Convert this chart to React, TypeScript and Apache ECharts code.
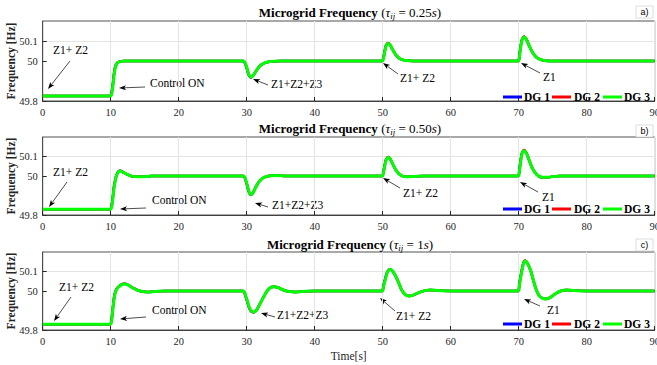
import React, { useEffect, useRef } from 'react';
import * as echarts from 'echarts';

// ---------- data ----------
const legendNames = ['DG 1', 'DG 2', 'DG 3'];
const lineColors = ['#0000ff', '#ff0000', '#00ff00'];
const tauLabels = ['0.25', '0.50', '1'];
const panelTags = ['a)', 'b)', 'c)'];
const yTickValues = [49.8, 50, 50.1];

// panel a (tau = 0.25 s)
const tA = [0, 9.9, 10.1, 10.3, 10.5, 10.7, 11.0, 11.4, 12.0, 13,
  29.5, 29.7, 30.0, 30.3, 30.6, 30.9, 31.3, 31.8, 32.5, 33.5, 35,
  49.9, 50.1, 50.3, 50.5, 50.8, 51.1, 51.5, 52.0, 52.6, 53.4, 54.5,
  69.9, 70.1, 70.3, 70.5, 70.8, 71.1, 71.5, 72.0, 72.6, 73.4, 74.5,
  90];
const aDG1 = [49.825, 49.825, 49.835, 49.88, 49.94, 49.975, 49.992, 49.998, 50.0, 50.0,
  50.0, 49.993, 49.965, 49.93, 49.918, 49.925, 49.946, 49.971, 49.988, 49.997, 50.0,
  50.0, 50.015, 50.052, 50.079, 50.089, 50.079, 50.054, 50.027, 50.01, 50.002, 50.0,
  50.0, 50.027, 50.077, 50.109, 50.121, 50.109, 50.079, 50.044, 50.018, 50.005, 50.0,
  50.0];
const aDG2 = [49.825, 49.825, 49.833, 49.876, 49.936, 49.973, 49.991, 49.998, 50.0, 50.0,
  50.0, 49.994, 49.967, 49.932, 49.919, 49.925, 49.945, 49.97, 49.988, 49.997, 50.0,
  50.0, 50.013, 50.049, 50.077, 50.09, 50.081, 50.056, 50.028, 50.01, 50.002, 50.0,
  50.0, 50.024, 50.074, 50.108, 50.123, 50.112, 50.08, 50.045, 50.018, 50.005, 50.0,
  50.0];
const aDG3 = [49.825, 49.825, 49.83, 49.87, 49.93, 49.97, 49.99, 49.997, 50.0, 50.0,
  50.0, 49.995, 49.97, 49.935, 49.92, 49.925, 49.945, 49.97, 49.988, 49.997, 50.0,
  50.0, 50.01, 50.045, 50.075, 50.088, 50.08, 50.055, 50.028, 50.01, 50.002, 50.0,
  50.0, 50.02, 50.07, 50.105, 50.12, 50.11, 50.08, 50.045, 50.018, 50.005, 50.0,
  50.0];

// panel b (tau = 0.50 s)
const tB = [0, 9.9, 10.1, 10.3, 10.5, 10.8, 11.1, 11.4, 11.8, 12.4, 13.2, 14.5, 16,
  29.5, 29.7, 30.0, 30.3, 30.6, 30.9, 31.3, 31.8, 32.4, 33.2, 34.2, 36,
  49.9, 50.1, 50.3, 50.5, 50.8, 51.1, 51.5, 52.0, 52.6, 53.4, 54.5, 56,
  69.9, 70.1, 70.3, 70.5, 70.8, 71.1, 71.5, 72.0, 72.6, 73.4, 74.5, 76,
  90];
const bDG1 = [49.83, 49.83, 49.84, 49.89, 49.95, 49.998, 50.022, 50.027, 50.02, 50.008, 49.998, 49.996, 50.0,
  50.0, 49.993, 49.96, 49.92, 49.903, 49.912, 49.941, 49.971, 49.99, 50.0, 50.003, 50.0,
  50.0, 50.02, 50.057, 50.085, 50.096, 50.087, 50.059, 50.027, 50.005, 49.996, 49.997, 50.0,
  50.0, 50.032, 50.083, 50.12, 50.131, 50.119, 50.084, 50.04, 50.01, 49.993, 49.994, 50.0,
  50.0];
const bDG2 = [49.83, 49.83, 49.838, 49.885, 49.945, 49.997, 50.021, 50.027, 50.02, 50.008, 49.998, 49.996, 50.0,
  50.0, 49.994, 49.962, 49.922, 49.904, 49.912, 49.94, 49.97, 49.99, 50.0, 50.003, 50.0,
  50.0, 50.018, 50.054, 50.083, 50.097, 50.089, 50.061, 50.028, 50.005, 49.996, 49.997, 50.0,
  50.0, 50.029, 50.08, 50.118, 50.133, 50.122, 50.086, 50.041, 50.01, 49.993, 49.994, 50.0,
  50.0];
const bDG3 = [49.83, 49.83, 49.835, 49.88, 49.94, 49.995, 50.02, 50.026, 50.02, 50.008, 49.998, 49.996, 50.0,
  50.0, 49.995, 49.965, 49.925, 49.905, 49.912, 49.94, 49.97, 49.99, 50.0, 50.003, 50.0,
  50.0, 50.015, 50.05, 50.08, 50.095, 50.088, 50.06, 50.028, 50.005, 49.996, 49.997, 50.0,
  50.0, 50.025, 50.075, 50.115, 50.13, 50.12, 50.085, 50.04, 50.01, 49.993, 49.994, 50.0,
  50.0];

// panel c (tau = 1 s)
const tC = [0, 9.9, 10.1, 10.3, 10.5, 10.7, 11.0, 11.5, 12.0, 12.6, 13.4, 14.3, 15.3, 16.5, 18,
  29.5, 29.7, 30.0, 30.4, 30.7, 31.0, 31.4, 31.9, 32.5, 33.0, 33.5, 34.0, 34.6, 35.4, 36.2, 37.0, 38.2, 40,
  49.9, 50.1, 50.4, 50.7, 51.1, 51.5, 52.0, 52.5, 52.8, 53.3, 53.9, 54.5, 55.3, 56.2, 57.0, 58.2, 60,
  69.9, 70.1, 70.4, 70.7, 70.95, 71.3, 71.8, 72.2, 72.6, 73.1, 73.9, 74.6, 75.4, 76.2, 77.0, 78.2, 80,
  90];
const cDG1 = [49.83, 49.83, 49.846, 49.91, 49.968, 49.998, 50.017, 50.031, 50.037, 50.03, 50.013, 50.0, 49.995, 49.997, 50.0,
  50.0, 49.987, 49.955, 49.91, 49.894, 49.891, 49.9, 49.931, 49.971, 50.0, 50.018, 50.022, 50.018, 50.005, 49.997, 49.995, 49.998, 50.0,
  50.0, 50.026, 50.067, 50.1, 50.112, 50.099, 50.069, 50.029, 50.004, 49.982, 49.974, 49.979, 49.992, 50.002, 50.005, 50.002, 50.0,
  50.0, 50.037, 50.097, 50.145, 50.155, 50.141, 50.099, 50.049, 50.004, 49.972, 49.959, 49.966, 49.986, 50.0, 50.005, 50.002, 50.0,
  50.0];
const cDG2 = [49.83, 49.83, 49.843, 49.905, 49.964, 49.997, 50.016, 50.031, 50.037, 50.03, 50.013, 50.0, 49.995, 49.997, 50.0,
  50.0, 49.988, 49.957, 49.912, 49.895, 49.891, 49.9, 49.93, 49.97, 50.0, 50.018, 50.022, 50.018, 50.005, 49.997, 49.995, 49.998, 50.0,
  50.0, 50.023, 50.064, 50.098, 50.112, 50.101, 50.07, 50.03, 50.005, 49.982, 49.974, 49.979, 49.992, 50.002, 50.005, 50.002, 50.0,
  50.0, 50.034, 50.094, 50.143, 50.156, 50.143, 50.101, 50.05, 50.005, 49.972, 49.959, 49.966, 49.986, 50.0, 50.005, 50.002, 50.0,
  50.0];
const cDG3 = [49.83, 49.83, 49.84, 49.9, 49.96, 49.995, 50.015, 50.03, 50.036, 50.03, 50.013, 50.0, 49.995, 49.997, 50.0,
  50.0, 49.99, 49.96, 49.915, 49.897, 49.892, 49.9, 49.93, 49.97, 50.0, 50.018, 50.022, 50.018, 50.005, 49.997, 49.995, 49.998, 50.0,
  50.0, 50.02, 50.06, 50.095, 50.111, 50.1, 50.07, 50.03, 50.005, 49.982, 49.974, 49.979, 49.992, 50.002, 50.005, 50.002, 50.0,
  50.0, 50.03, 50.09, 50.14, 50.154, 50.142, 50.1, 50.05, 50.005, 49.972, 49.959, 49.966, 49.986, 50.0, 50.005, 50.002, 50.0,
  50.0];

const panels = [
  { t: tA, dg: [aDG1, aDG2, aDG3] },
  { t: tB, dg: [bDG1, bDG2, bDG3] },
  { t: tC, dg: [cDG1, cDG2, cDG3] },
];

// ---------- layout / styles ----------
const SERIF = 'Liberation Serif';
const SANS = 'Liberation Sans';
const AXIS_COLOR = '#262626';
const GRID_COLOR = '#e4e4e4';
const gridBoxes = [
  { top: 21, height: 80 },
  { top: 137, height: 78 },
  { top: 252, height: 78 },
];
const titleY = [12, 128, 244];
const tagY = [6, 125, 239];
const legendY = [97, 209, 324];

type Ann = { text: string; tx: number; ty: number; x1: number; y1: number; x2: number; y2: number };
const annotations: Ann[] = [
  // a
  { text: 'Z1+ Z2', tx: 53, ty: 50, x1: 70, y1: 61, x2: 48, y2: 89 },
  { text: 'Control ON', tx: 150, ty: 83, x1: 145, y1: 87, x2: 119, y2: 88 },
  { text: 'Z1+Z2+Z3', tx: 271, ty: 84, x1: 268, y1: 85, x2: 253, y2: 79 },
  { text: 'Z1+ Z2', tx: 400, ty: 78, x1: 398, y1: 74, x2: 383, y2: 63 },
  { text: 'Z1', tx: 543, ty: 77, x1: 540, y1: 73, x2: 521, y2: 63 },
  // b
  { text: 'Z1+ Z2', tx: 53, ty: 172, x1: 67, y1: 182, x2: 49, y2: 207 },
  { text: 'Control ON', tx: 152, ty: 200, x1: 146, y1: 208, x2: 120, y2: 209 },
  { text: 'Z1+Z2+Z3', tx: 272, ty: 205, x1: 268, y1: 207, x2: 255, y2: 203 },
  { text: 'Z1+ Z2', tx: 403, ty: 193, x1: 400, y1: 188, x2: 383, y2: 178 },
  { text: 'Z1', tx: 542, ty: 197, x1: 538, y1: 192, x2: 520, y2: 182 },
  // c
  { text: 'Z1+ Z2', tx: 59, ty: 287, x1: 71, y1: 297, x2: 54, y2: 321 },
  { text: 'Control ON', tx: 152, ty: 310, x1: 146, y1: 317, x2: 120, y2: 319 },
  { text: 'Z1+Z2+Z3', tx: 277, ty: 315, x1: 275, y1: 317, x2: 261, y2: 313 },
  { text: 'Z1+ Z2', tx: 396, ty: 316, x1: 395, y1: 311, x2: 380, y2: 298 },
  { text: 'Z1', tx: 547, ty: 310, x1: 540, y1: 306, x2: 524, y2: 299 },
];

// legend drawn as graphic: [icon start x, text start x]
const legendItems = [
  { ix: 503, tx: 524 },
  { ix: 552, tx: 574 },
  { ix: 603, tx: 624 },
];

function arrowParts(a: Ann) {
  const dx = a.x2 - a.x1, dy = a.y2 - a.y1;
  const len = Math.hypot(dx, dy) || 1;
  const ux = dx / len, uy = dy / len;
  const L = 7, W = 2.6;
  const bx = a.x2 - ux * L, by = a.y2 - uy * L;
  const nx = -uy, ny = ux;
  const mx = a.x2 - ux * L * 0.75, my = a.y2 - uy * L * 0.75;
  return [
    { type: 'line', silent: true, shape: { x1: a.x1, y1: a.y1, x2: mx, y2: my }, style: { stroke: '#000', lineWidth: 0.7 } },
    { type: 'polygon', silent: true, shape: { points: [[a.x2, a.y2], [bx + nx * W, by + ny * W], [mx, my], [bx - nx * W, by - ny * W]] }, style: { fill: '#000' } },
    { type: 'text', silent: true, x: a.tx, y: a.ty, style: { text: a.text, fontFamily: SERIF, fontSize: 11.5, fill: '#000', align: 'left', verticalAlign: 'middle' } },
  ];
}

function buildOption() {
  const grid = gridBoxes.map((g) => ({
    left: 42.7, right: 2.3, top: g.top, height: g.height,
    containLabel: false, outerBoundsMode: 'none',
    show: true, borderColor: AXIS_COLOR, borderWidth: 0.8, backgroundColor: 'transparent',
  }));

  const xAxis = gridBoxes.map((_, i) => ({
    gridIndex: i, type: 'value', min: 0, max: 90, interval: 10,
    axisLine: { show: true, lineStyle: { color: AXIS_COLOR, width: 0.8 } },
    axisTick: { show: true, inside: true, length: 4, lineStyle: { color: AXIS_COLOR } },
    axisLabel: { fontFamily: SERIF, fontSize: 10.5, color: AXIS_COLOR, margin: 6, hideOverlap: false },
    splitLine: { show: true, lineStyle: { color: GRID_COLOR, width: 1 } },
    name: i === 2 ? 'Time[s]' : '',
    nameLocation: 'middle', nameGap: 20, nameMoveOverlap: false,
    nameTextStyle: { fontFamily: SERIF, fontSize: 11.5, color: AXIS_COLOR },
  }));

  const yAxis = gridBoxes.map((_, i) => ({
    gridIndex: i, type: 'value', min: 49.8, max: 50.2, interval: 0.1,
    axisLine: { show: true, lineStyle: { color: AXIS_COLOR, width: 0.8 } },
    axisTick: { show: true, inside: true, length: 4, customValues: yTickValues, lineStyle: { color: AXIS_COLOR } },
    axisLabel: {
      customValues: yTickValues,
      fontFamily: SERIF, fontSize: 10.5, color: AXIS_COLOR, margin: 5,
      formatter: (v: number) => {
        const s = String(+v.toFixed(1));
        return yTickValues.some((t) => Math.abs(t - v) < 1e-6) ? s : '';
      },
    },
    splitLine: { show: true, lineStyle: { color: ['transparent', 'transparent', GRID_COLOR, GRID_COLOR, 'transparent'], width: 1 } },
    name: 'Frequency [Hz]', nameLocation: 'middle', nameGap: 26, nameMoveOverlap: false,
    nameTextStyle: { fontFamily: SERIF, fontSize: 11.5, fontWeight: 'bold', color: AXIS_COLOR },
  }));

  const series: any[] = [];
  panels.forEach((p, pi) => {
    p.dg.forEach((vals, di) => {
      series.push({
        type: 'line', name: legendNames[di], xAxisIndex: pi, yAxisIndex: pi,
        data: p.t.map((t, k) => [t, vals[k]]),
        showSymbol: false, symbol: 'none', smooth: 0.3,
        color: lineColors[di],
        lineStyle: { color: lineColors[di], width: di === 2 ? 3 : 2.5 },
        z: 2 + di,
      });
    });
  });

  const graphic: any[] = [];
  tauLabels.forEach((tau, i) => {
    graphic.push({
      type: 'text', silent: true, x: 350, y: titleY[i],
      style: {
        text: `{b|Microgrid Frequency} {p|(}{i|τ}{s|ij}{p| = ${tau}}{i|s}{p|)}`,
        align: 'center', verticalAlign: 'middle',
        rich: {
          b: { fontFamily: SERIF, fontSize: 13, fontWeight: 'bold', lineHeight: 16, fill: '#000' },
          p: { fontFamily: SERIF, fontSize: 13, lineHeight: 16, fill: '#000' },
          i: { fontFamily: SERIF, fontSize: 13, fontStyle: 'italic', lineHeight: 16, fill: '#000' },
          s: { fontFamily: SERIF, fontSize: 9, fontStyle: 'italic', lineHeight: 9, verticalAlign: 'bottom', fill: '#000' },
        },
      },
    });
    graphic.push({
      type: 'group', silent: true,
      children: [
        { type: 'rect', shape: { x: 636, y: tagY[i], width: 17, height: 12 }, style: { fill: '#fff', stroke: '#c8c8c8', lineWidth: 0.6 } },
        { type: 'text', x: 644.5, y: tagY[i] + 6, style: { text: panelTags[i], fontFamily: SANS, fontSize: 9, fill: '#000', align: 'center', verticalAlign: 'middle' } },
      ],
    });
    legendItems.forEach((it, di) => {
      graphic.push({
        type: 'rect', silent: true, z: 100,
        shape: { x: it.ix, y: legendY[i] - 1.5, width: 19, height: 3 },
        style: { fill: lineColors[di] },
      });
      graphic.push({
        type: 'text', silent: true, z: 100, x: it.tx, y: legendY[i],
        style: { text: legendNames[di], fontFamily: SERIF, fontSize: 11.5, fontWeight: 'bold', fill: '#000', align: 'left', verticalAlign: 'middle' },
      });
    });
  });
  annotations.forEach((a) => graphic.push(...arrowParts(a)));

  return {
    animation: false,
    backgroundColor: '#fff',
    grid, xAxis, yAxis, series, graphic,
  };
}

export default function App() {
  const ref = useRef<HTMLDivElement>(null);
  useEffect(() => {
    const chart = echarts.init(ref.current!, null, { renderer: 'svg' });
    chart.setOption(buildOption() as any);
    return () => chart.dispose();
  }, []);
  return (
    <div
      ref={ref}
      style={{ position: 'fixed', left: 0, top: 0, width: 657, height: 365, background: '#fff' }}
    />
  );
}
